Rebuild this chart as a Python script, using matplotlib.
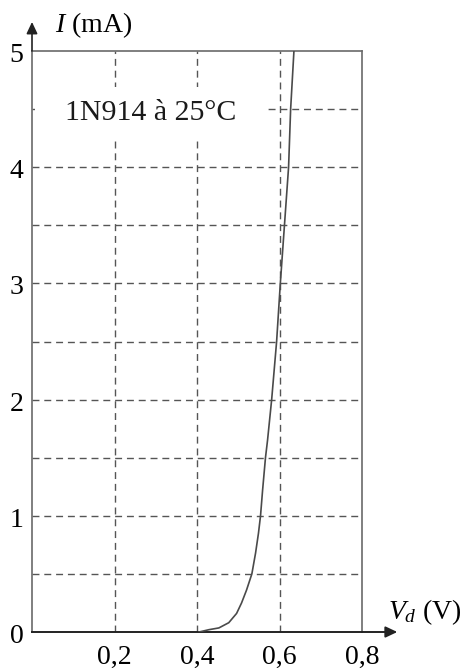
import matplotlib.pyplot as plt
from matplotlib.patches import Rectangle

plt.rcParams['font.family'] = ['Liberation Serif', 'DejaVu Serif']
plt.rcParams['mathtext.fontset'] = 'custom'
plt.rcParams['mathtext.rm'] = 'Liberation Serif'
plt.rcParams['mathtext.it'] = 'Liberation Serif:italic'

# Forward characteristic of the 1N914 diode at 25 °C
v_d = [0.405, 0.429, 0.453, 0.477, 0.496, 0.508, 0.520, 0.533, 0.542, 0.549,
       0.554, 0.559, 0.566, 0.571, 0.581, 0.593, 0.602, 0.612, 0.622, 0.627, 0.635]
i_ma = [0.0, 0.02, 0.035, 0.08, 0.16, 0.25, 0.36, 0.5, 0.68, 0.85,
        1.0, 1.22, 1.5, 1.65, 2.0, 2.5, 3.0, 3.5, 4.0, 4.5, 5.0]

x_grid = [0.2, 0.4, 0.6]
y_grid = [0.5, 1.0, 1.5, 2.0, 2.5, 3.0, 3.5, 4.0, 4.5]
x_ticks = [0.2, 0.4, 0.6, 0.8]
x_labels = ['0,2', '0,4', '0,6', '0,8']
y_ticks = [0, 1, 2, 3, 4, 5]
y_labels = ['0', '1', '2', '3', '4', '5']

W, H = 462, 670
fig = plt.figure(figsize=(W / 100, H / 100), dpi=100)
ax = fig.add_axes([32 / W, 38 / H, 330 / W, 581 / H])
ax.set_xlim(0, 0.8)
ax.set_ylim(0, 5)

grid_kw = dict(color='#555555', lw=1.0, linestyles=(0, (5, 3.5)), zorder=1)
ax.vlines(x_grid, 0, 5, **grid_kw)
ax.hlines(y_grid, 0, 0.8, **grid_kw)

# white panel behind the caption, hiding the grid there
ax.add_patch(Rectangle((0.007, 4.234), 0.566, 0.456, facecolor='white',
                       edgecolor='none', zorder=2))
ax.text(0.079, 4.47, '1N914 à 25°C', fontsize=21.5, ha='left', va='center',
        color='#1a1a1a', zorder=4)

ax.plot(v_d, i_ma, color='#4a4a4a', lw=1.2, zorder=3)

for side in ('top', 'right', 'left'):
    ax.spines[side].set_color('#6a6a6a')
    ax.spines[side].set_linewidth(1.2)
ax.spines['bottom'].set_color('#222222')
ax.spines['bottom'].set_linewidth(1.4)

ax.set_xticks(x_ticks, x_labels, fontsize=20)
ax.set_yticks([])
ax.tick_params(axis='x', length=0, pad=9)

for yv, lab in zip(y_ticks, y_labels):
    ax.text(-0.021, yv - 0.038, lab, fontsize=20, ha='right', va='center')

# axis arrows
ax.annotate('', xy=(0, 1.05), xytext=(0, 1.0), xycoords='axes fraction',
            arrowprops=dict(arrowstyle='-|>,head_length=0.7,head_width=0.33',
                            color='#222222', lw=1.2, shrinkA=0, shrinkB=0),
            annotation_clip=False)
ax.annotate('', xy=(1.107, 0), xytext=(1.0, 0), xycoords='axes fraction',
            arrowprops=dict(arrowstyle='-|>,head_length=0.7,head_width=0.33',
                            color='#222222', lw=1.4, shrinkA=0, shrinkB=0),
            annotation_clip=False)

fig.text(55 / W, 1 - 25 / H, r'$I$ (mA)', fontsize=20, ha='left', va='center')
fig.text(388 / W, 1 - 612 / H, r'$V_d$ (V)', fontsize=20, ha='left', va='center')

fig.savefig('out.png', dpi=100)
